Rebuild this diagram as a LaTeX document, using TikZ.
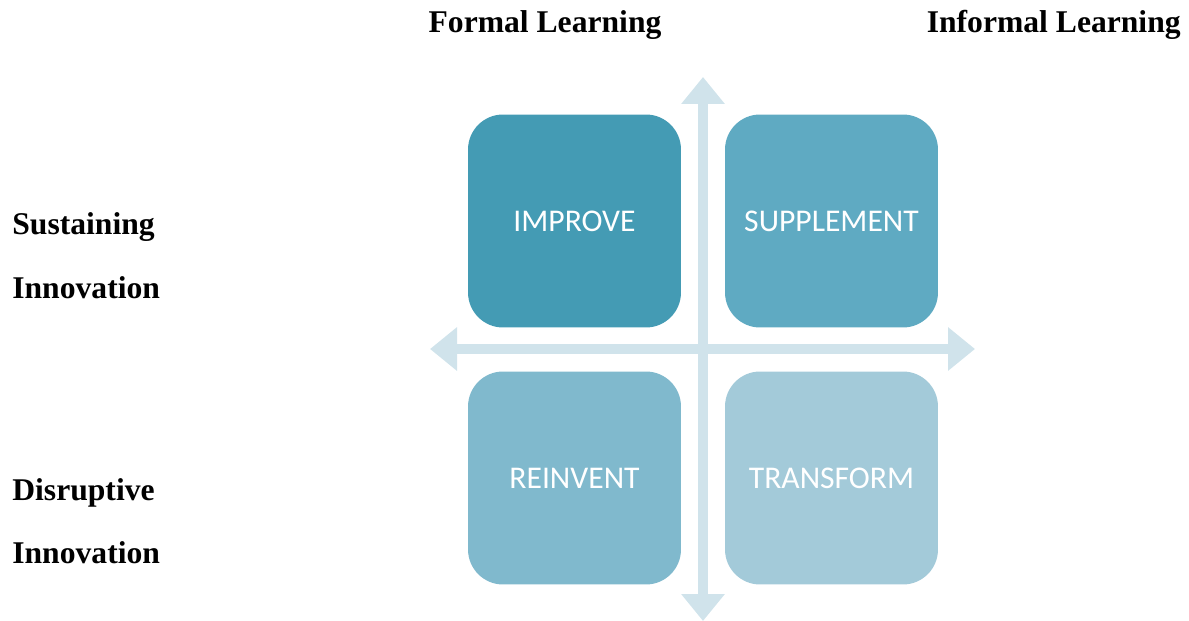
\documentclass[tikz,border=0pt]{standalone}
\usepackage{fontspec}
\usepackage{tikz}
\usepackage{xcolor}
\usetikzlibrary{positioning, arrows.meta}
\setmainfont{Liberation Serif}
\newfontfamily\boxfont{Carlito}
\definecolor{qimprove}{HTML}{449BB4}
\definecolor{qsupplement}{HTML}{5FAAC2}
\definecolor{qreinvent}{HTML}{80B9CD}
\definecolor{qtransform}{HTML}{A3CAD9}
\definecolor{qaxis}{HTML}{D0E3EB}
\tikzset{
    quadbox/.style={rectangle, rounded corners=0.7cm, minimum size=4.26cm, inner sep=0pt, text=white, font=\boxfont\fontsize{18}{22}\selectfont},
    heading/.style={font=\bfseries\fontsize{18}{22}\selectfont, inner sep=0pt},
    axisline/.style={draw=qaxis, line width=0.2cm, {Triangle[width=0.84cm, length=0.54cm]}-{Triangle[width=0.84cm, length=0.54cm]}}
}

\begin{document}
\begin{tikzpicture}[x=0.02cm, y=-0.02cm]
    \useasboundingbox (0,0) rectangle (1189,621);
    % axes
    \coordinate (top) at (703,77);
    \coordinate (bottom) at (703,621);
    \coordinate (left) at (430,349);
    \coordinate (right) at (975,349);
    \draw[axisline] (top) -- (bottom);
    \draw[axisline] (left) -- (right);

    % quadrants
    \node[quadbox, fill=qimprove] (improve) at (574.5,221) {IMPROVE};
    \node[quadbox, fill=qsupplement] (supplement) at (831.5,221) {SUPPLEMENT};
    \node[quadbox, fill=qreinvent] (reinvent) at (574.5,478) {REINVENT};
    \node[quadbox, fill=qtransform] (transform) at (831.5,478) {TRANSFORM};

    % headings
    \node[heading, anchor=base] (formal) at (545,33) {Formal Learning};
    \node[heading, anchor=base east] (informal) at (1181,33) {Informal Learning};
    \node[heading, anchor=base west] (sust1) at (12,235) {Sustaining};
    \node[heading, anchor=base west] (sust2) at (12,298) {Innovation};
    \node[heading, anchor=base west] (disr1) at (12,500) {Disruptive};
    \node[heading, anchor=base west] (disr2) at (12,563) {Innovation};
\end{tikzpicture}
\end{document}
